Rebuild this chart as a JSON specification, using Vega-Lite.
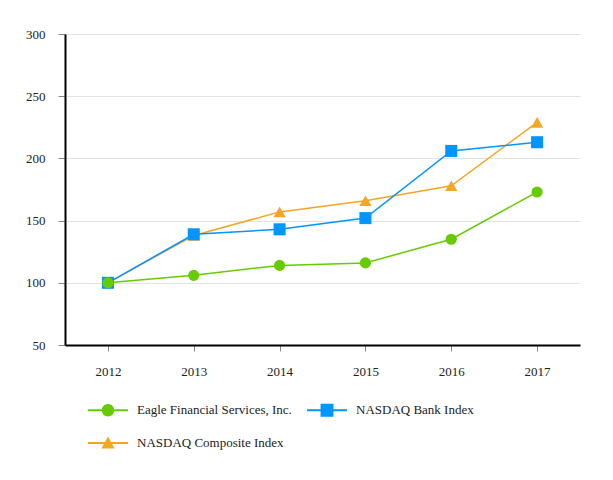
{
  "$schema": "https://vega.github.io/schema/vega-lite/v6.json",
  "width": 515,
  "height": 311,
  "autosize": {"type": "none"},
  "padding": {"left": 65, "top": 34, "right": 33, "bottom": 135},
  "config": {
    "view": {"stroke": null},
    "font": "Liberation Serif",
    "axis": {"labelFont": "Liberation Serif", "labelFontSize": 13, "labelColor": "#222"},
    "legend": {
      "title": null, "orient": "none", "legendX": 26.5, "legendY": 359.5, "columns": 2, "direction": "horizontal",
      "symbolSize": 1089, "symbolStrokeWidth": 0, "symbolOpacity": 1, "labelOffset": 12.5, "columnPadding": 14, "rowPadding": 9,
      "labelFont": "Liberation Serif", "labelFontSize": 13, "labelColor": "#222", "labelLimit": 300
    }
  },
  "data": {
    "values": [
      {"year": "2012", "series": "NASDAQ Composite Index", "value": 100},
      {"year": "2013", "series": "NASDAQ Composite Index", "value": 138},
      {"year": "2014", "series": "NASDAQ Composite Index", "value": 157},
      {"year": "2015", "series": "NASDAQ Composite Index", "value": 166},
      {"year": "2016", "series": "NASDAQ Composite Index", "value": 178},
      {"year": "2017", "series": "NASDAQ Composite Index", "value": 229},
      {"year": "2012", "series": "NASDAQ Bank Index", "value": 100},
      {"year": "2013", "series": "NASDAQ Bank Index", "value": 139},
      {"year": "2014", "series": "NASDAQ Bank Index", "value": 143},
      {"year": "2015", "series": "NASDAQ Bank Index", "value": 152},
      {"year": "2016", "series": "NASDAQ Bank Index", "value": 206},
      {"year": "2017", "series": "NASDAQ Bank Index", "value": 213},
      {"year": "2012", "series": "Eagle Financial Services, Inc.", "value": 100},
      {"year": "2013", "series": "Eagle Financial Services, Inc.", "value": 106},
      {"year": "2014", "series": "Eagle Financial Services, Inc.", "value": 114},
      {"year": "2015", "series": "Eagle Financial Services, Inc.", "value": 116},
      {"year": "2016", "series": "Eagle Financial Services, Inc.", "value": 135},
      {"year": "2017", "series": "Eagle Financial Services, Inc.", "value": 173}
    ]
  },
  "encoding": {
    "x": {
      "field": "year", "type": "ordinal", "title": null,
      "scale": {"type": "point", "padding": 0.5},
      "axis": {"labelAngle": 0, "labelFontSize": 13, "domainColor": "#000", "domainWidth": 2, "tickColor": "#888", "tickSize": 6, "labelPadding": 14, "grid": false}
    },
    "y": {
      "field": "value", "type": "quantitative", "title": null,
      "scale": {"domain": [50, 300], "nice": false, "zero": false},
      "axis": {"values": [50, 100, 150, 200, 250, 300], "labelFontSize": 13, "domainColor": "#000", "domainWidth": 2, "tickColor": "#888", "tickSize": 7, "labelPadding": 13, "grid": true, "gridColor": "#e3e3e3", "gridWidth": 1}
    }
  },
  "layer": [
    {
      "mark": {"type": "line", "strokeWidth": 1.5},
      "encoding": {
        "color": {
          "field": "series", "type": "nominal",
          "scale": {"domain": ["Eagle Financial Services, Inc.", "NASDAQ Bank Index", "NASDAQ Composite Index"], "range": ["#66CC00", "#0096FF", "#F5A623"]}
        }
      }
    },
    {
      "mark": {"type": "point", "filled": true, "opacity": 0, "size": 135, "strokeWidth": 0},
      "encoding": {
        "color": {
          "field": "series", "type": "nominal",
          "scale": {"domain": ["Eagle Financial Services, Inc.", "NASDAQ Bank Index", "NASDAQ Composite Index"], "range": ["#66CC00", "#0096FF", "#F5A623"]}
        },
        "shape": {
          "field": "series", "type": "nominal",
          "scale": {
            "domain": ["Eagle Financial Services, Inc.", "NASDAQ Bank Index", "NASDAQ Composite Index"],
            "range": [
              "M-1.21,-0.055H1.21V0.055H-1.21Z M-0.376,0A0.376,0.376 0 1,1 0.376,0A0.376,0.376 0 1,1 -0.376,0Z",
              "M-1.21,-0.055H1.21V0.055H-1.21Z M-0.39,-0.39H0.39V0.39H-0.39Z",
              "M-1.21,-0.055H1.21V0.055H-1.21Z M0,-0.4L0.4,0.33L-0.4,0.33Z"
            ]
          }
        }
      }
    },
    {
      "transform": [{"filter": "datum.series == 'NASDAQ Composite Index'"}],
      "mark": {"type": "point", "shape": "triangle-up", "filled": true, "opacity": 1, "size": 150, "color": "#F5A623"}
    },
    {
      "transform": [{"filter": "datum.series == 'NASDAQ Bank Index'"}],
      "mark": {"type": "point", "shape": "square", "filled": true, "opacity": 1, "size": 145, "color": "#0096FF"}
    },
    {
      "transform": [{"filter": "datum.series == 'Eagle Financial Services, Inc.'"}],
      "mark": {"type": "point", "shape": "circle", "filled": true, "opacity": 1, "size": 125, "color": "#66CC00"}
    }
  ]
}
